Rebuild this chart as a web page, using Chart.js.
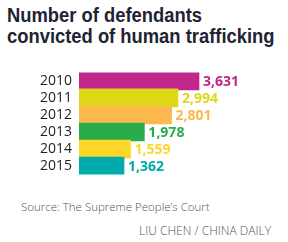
<!DOCTYPE html>
<html>
<head>
<meta charset="utf-8">
<script src="https://cdn.jsdelivr.net/npm/chart.js@4.4.1/dist/chart.umd.min.js"></script>
<style>
  html, body { margin: 0; padding: 0; background: #fff; }
  body { width: 288px; height: 242px; position: relative; overflow: hidden; }
  #title {
    position: absolute; left: 7px; top: 4px; white-space: nowrap;
    font-family: "Liberation Sans", Arial, sans-serif; font-weight: bold;
    font-size: 21px; line-height: 21px; color: #1e2432;
    transform: scaleX(0.875); transform-origin: left top;
  }
  #wrap { position: absolute; left: 0; top: 57px; width: 288px; height: 133px; }
  #source {
    position: absolute; left: 21px; top: 199px;
    font-family: "Open Sans", sans-serif; font-weight: 300;
    font-size: 11.5px; color: #55505a;
  }
  #credit {
    position: absolute; right: 17px; top: 222px;
    font-family: "Open Sans", sans-serif; font-weight: 300;
    font-size: 12px; color: #55505a;
  }
</style>
</head>
<body>
<div id="title">Number of defendants<br>convicted of human trafficking</div>
<div id="wrap"><canvas id="barCanvas"></canvas></div>
<div id="source">Source: The Supreme People’s Court</div>
<div id="credit">LIU CHEN / CHINA DAILY</div>
<script>
// years and convictions
const years = ["2010", "2011", "2012", "2013", "2014", "2015"];
const convicted = [3631, 2994, 2801, 1978, 1559, 1362];
const barColors = ["#c1268c", "#dcd816", "#fdb84b", "#2cab4b", "#fdd82a", "#00aaad"];

const valueLabels = {
  id: "valueLabels",
  afterDatasetsDraw(chart) {
    const ctx = chart.ctx;
    const meta = chart.getDatasetMeta(0);
    ctx.save();
    ctx.font = "bold 14px 'Open Sans', sans-serif";
    ctx.textBaseline = "middle";
    ctx.textAlign = "left";
    meta.data.forEach((bar, i) => {
      ctx.fillStyle = barColors[i];
      ctx.fillText(convicted[i].toLocaleString("en-US"), bar.x + 4, bar.y + 1);
    });
    ctx.restore();
  }
};

const barChart = new Chart(document.getElementById("barCanvas"), {
  type: "bar",
  data: {
    labels: years,
    datasets: [
      {
        data: convicted,
        backgroundColor: barColors,
        barThickness: 18,
        borderWidth: 0,
      },
    ],
  },
  options: {
    indexAxis: "y",
    responsive: true,
    maintainAspectRatio: false,
    animation: false,
    layout: { padding: 0 },
    plugins: {
      legend: { display: false },
      tooltip: { enabled: false },
    },
    scales: {
      x: {
        display: false,
        min: 0,
        max: 6324,
      },
      y: {
        grid: { display: false, drawTicks: false },
        border: { display: false },
        ticks: {
          padding: 7,
          color: "#231f20",
          font: { family: "'Open Sans', sans-serif", size: 14 },
        },
        afterFit(scale) { scale.width = 79; },
      },
    },
  },
  plugins: [valueLabels],
});
</script>
</body>
</html>
